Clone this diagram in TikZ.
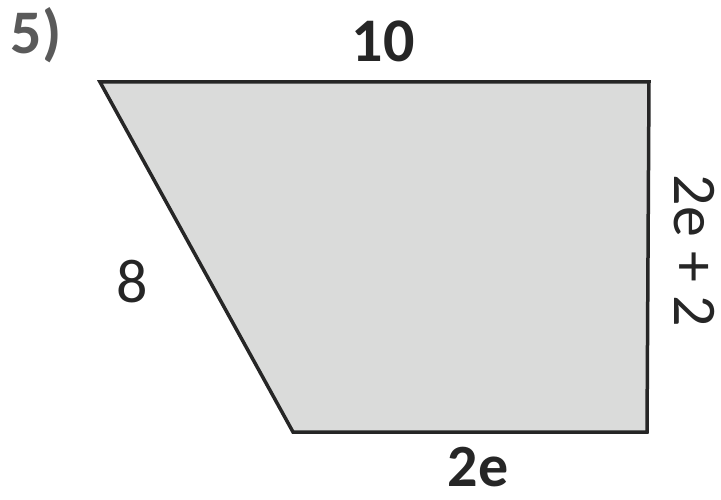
\documentclass[tikz,border=0pt]{standalone}
\usepackage{fontspec}
\setmainfont{Carlito}
\definecolor{shapefill}{HTML}{DADBDA}
\definecolor{inkc}{HTML}{262626}
\definecolor{numc}{HTML}{5A5A5A}
\begin{document}
\begin{tikzpicture}[x=1pt,y=-1pt,
  lbl/.style={inner sep=0pt,text=inkc,font=\fontsize{62}{62}\selectfont},
  lblb/.style={lbl,font=\fontsize{62}{62}\selectfont\bfseries}]
\useasboundingbox (0,0) rectangle (721,500);
\coordinate (tl) at (100,82);
\coordinate (tr) at (649,82);
\coordinate (br) at (647,432);
\coordinate (bl) at (293,432);
\draw[fill=shapefill,draw=inkc,line width=3.5pt,line join=miter] (tl) -- (tr) -- (br) -- (bl) -- cycle;
\node[lblb,text=numc] (num) at (36,35) {5)};
\node[lblb] (top) at (383,41) {10};
\node[lbl] (left) at (132,282) {8};
\node[lblb,font=\fontsize{60}{60}\selectfont\bfseries] (bottom) at (478,467) {2e};
\node[lbl,rotate=-90] (right) at (694,251) {2e + 2};
\end{tikzpicture}
\end{document}
